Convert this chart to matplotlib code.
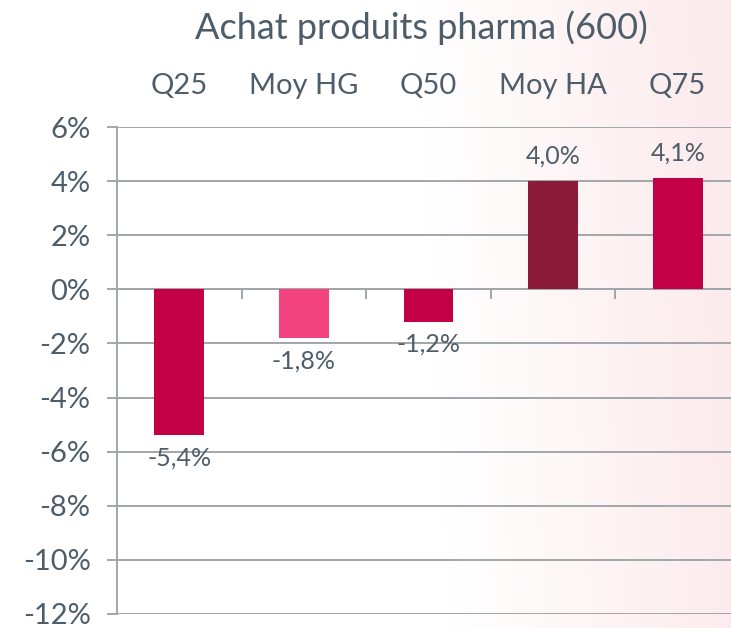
import matplotlib
matplotlib.use("Agg")
import matplotlib.pyplot as plt
import numpy as np
from matplotlib.ticker import FuncFormatter

plt.rcParams['font.family'] = ['Lato', 'DejaVu Sans']

# data
categories = ["Q25", "Moy HG", "Q50", "Moy HA", "Q75"]
values = [-5.4, -1.8, -1.2, 4.0, 4.1]
colors = ["#C30045", "#F2437F", "#C30045", "#8A1A38", "#C30045"]
title = "Achat produits pharma (600)"

text_col = "#4E5D6A"
grid_col = "#A2A6AA"

fig = plt.figure(figsize=(7.31, 6.28), dpi=100)

# soft pink gradient background on the right
bg = fig.add_axes([0, 0, 1, 1], zorder=-1)
xx, yy = np.meshgrid(np.linspace(0, 1, 300), np.linspace(0, 1, 300))
t = np.clip((xx - 0.62 + 0.05 * yy) / 0.38, 0, 1)
c0 = np.array([1.0, 1.0, 1.0])
c1 = np.array([0.988, 0.925, 0.93])
img = c0 + (c1 - c0) * t[..., None]
bg.imshow(img, origin="lower", extent=[0, 1, 0, 1], aspect="auto")
bg.axis("off")

ax = fig.add_axes([117 / 731, 1 - 614 / 628, (740 - 117) / 731, (614 - 127) / 628])
ax.patch.set_alpha(0)

x = np.arange(len(categories))
ax.bar(x, values, width=0.4, color=colors, zorder=3)

ax.set_xlim(-0.5, len(categories) - 0.5)
ax.set_ylim(-12, 6)
ax.set_yticks(np.arange(-12, 7, 2))
ax.yaxis.set_major_formatter(FuncFormatter(lambda v, p: f"{v:.0f}%"))
ax.grid(axis="y", color=grid_col, linewidth=1.4, zorder=0)
ax.tick_params(axis="y", length=7, width=1.4, color=grid_col, labelcolor=text_col,
               labelsize=21, pad=12)

# category labels on top
ax.set_xticks(x)
ax.set_xticklabels(categories)
ax.tick_params(axis="x", which="major", length=0, top=False, bottom=False,
               labeltop=True, labelbottom=False, labelsize=21, labelcolor=text_col, pad=20)
ax.set_xticks(np.arange(0.5, len(categories) - 0.5, 1), minor=True)
ax.tick_params(axis="x", which="minor", length=7, width=1.4, color=grid_col,
               direction="out", bottom=True, top=False)

for s in ["top", "right"]:
    ax.spines[s].set_visible(False)
ax.spines["bottom"].set_position(("data", 0))
ax.spines["bottom"].set_color(grid_col)
ax.spines["bottom"].set_linewidth(1.4)
ax.spines["left"].set_color(grid_col)
ax.spines["left"].set_linewidth(1.4)

for xi, v in zip(x, values):
    lbl = f"{v:.1f}%".replace(".", ",")
    if v >= 0:
        ax.annotate(lbl, (xi, v), xytext=(0, 10), textcoords="offset points",
                    ha="center", va="bottom", fontsize=18, color=text_col)
    else:
        ax.annotate(lbl, (xi, v), xytext=(0, -8), textcoords="offset points",
                    ha="center", va="top", fontsize=18, color=text_col)

fig.text(421 / 731, 1 - 28 / 628, title, ha="center", va="center", fontsize=26, color=text_col)

fig.savefig("out.png", dpi=100)
